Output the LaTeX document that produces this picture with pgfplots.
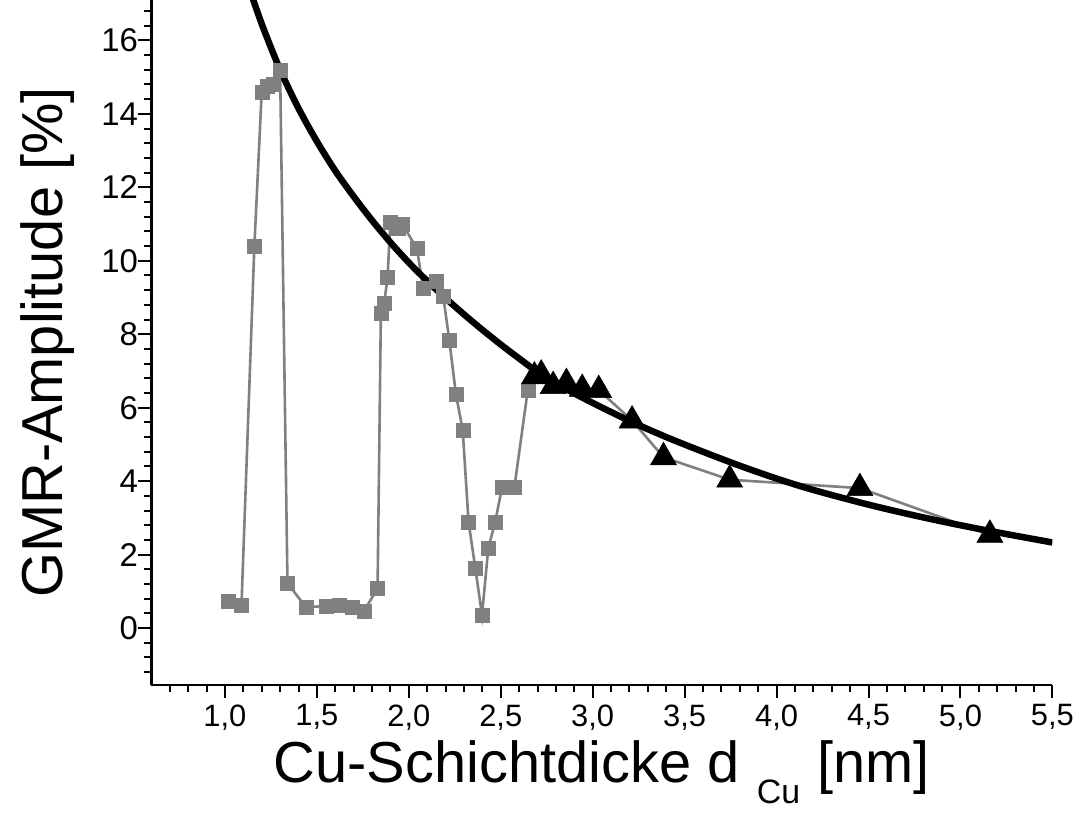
\documentclass[border=0pt]{standalone}
\usepackage{pgfplots}
\pgfplotsset{compat=1.18}
\usepackage{fontspec}
\setmainfont{Liberation Sans}
\definecolor{greyline}{RGB}{128,128,128}

\begin{document}
\begin{tikzpicture}
\begin{axis}[
  scale only axis, width=901bp, height=685bp,
  xmin=0.6, xmax=5.5, ymin=-1.55, ymax=17.1,
  axis x line=bottom, axis y line=left,
  axis line style={line width=2.6bp, -},
  xtick={1.0,1.5,2.0,2.5,3.0,3.5,4.0,4.5,5.0,5.5},
  xticklabels={{1,0},{1,5},{2,0},{2,5},{3,0},{3,5},{4,0},{4,5},{5,0},{5,5}},
  ytick={0,2,4,6,8,10,12,14,16},
  minor xtick={0.7,0.8,0.9,1.1,1.2,1.3,1.4,1.6,1.7,1.8,1.9,2.1,2.2,2.3,2.4,2.6,2.7,2.8,2.9,3.1,3.2,3.3,3.4,3.6,3.7,3.8,3.9,4.1,4.2,4.3,4.4,4.6,4.7,4.8,4.9,5.1,5.2,5.3,5.4},
  minor ytick={-1.2,-0.8,-0.4,0.4,0.8,1.2,1.6,2.4,2.8,3.2,3.6,4.4,4.8,5.2,5.6,6.4,6.8,7.2,7.6,8.4,8.8,9.2,9.6,10.4,10.8,11.2,11.6,12.4,12.8,13.2,13.6,14.4,14.8,15.2,15.6,16.4,16.8},
  tick align=outside,
  major tick length=13bp, minor tick length=7bp,
  every tick/.style={line width=2bp, black},
  /pgf/number format/assume math mode=true,
  xticklabel style={font=\fontsize{31}{31}\selectfont, yshift=-3bp},
  yticklabel style={font=\fontsize{33}{33}\selectfont, xshift=3bp},
  xlabel={Cu-Schichtdicke d\hspace{0.3em}\raisebox{-0.38em}{\fontsize{34}{34}\selectfont Cu}\hspace{0.3em}[nm]},
  ylabel={GMR-Amplitude [\%]},
  label style={font=\fontsize{58}{58}\selectfont},
  xlabel style={at={(axis description cs:0.5,-0.1416)}, anchor=base},
  ylabel style={at={(axis description cs:-0.0988,0.5)}, anchor=base, rotate=0},
]
\coordinate (O) at (rel axis cs:0,0);
% measured series (grey squares)
\addplot[color=greyline, line width=2.6bp, mark=square*, mark size=7bp, mark options={fill=greyline, draw=greyline, line width=0.4bp}] coordinates {
(1.016,0.73) (1.09,0.63) (1.16,10.4) (1.20,14.6) (1.23,14.75) (1.265,14.8) (1.30,15.2)
(1.34,1.22) (1.44,0.57) (1.55,0.6) (1.62,0.62) (1.69,0.57) (1.757,0.47) (1.83,1.08)
(1.848,8.58) (1.866,8.84) (1.884,9.54) (1.90,11.06) (1.94,10.88) (1.966,10.99) (2.044,10.33)
(2.078,9.26) (2.148,9.44) (2.187,9.04) (2.22,7.84) (2.256,6.37) (2.293,5.39) (2.325,2.88)
(2.362,1.62) (2.398,0.35) (2.432,2.17) (2.469,2.88) (2.507,3.83) (2.574,3.83) (2.647,6.48)
};
% grey connecting line through triangles
\addplot[color=greyline, line width=2.6bp, mark=none] coordinates {
(2.647,6.48) (2.683,6.85) (2.72,6.9) (2.785,6.59) (2.857,6.67) (2.943,6.51) (3.033,6.48)
(3.214,5.65) (3.385,4.65) (3.745,4.04) (4.453,3.81) (5.16,2.54)
};
% fit curve
\addplot[black, line width=6.5bp, smooth] coordinates {
(1.12,17.6) (1.2,16.45) (1.3,15.2) (1.4,14.15) (1.5,13.25) (1.6,12.45) (1.7,11.75)
(1.8,11.1) (1.9,10.5) (2.0,9.95) (2.1,9.45) (2.2,8.98) (2.3,8.54) (2.4,8.12) (2.5,7.72)
(2.6,7.34) (2.7,6.97) (2.8,6.66) (2.9,6.39) (3.0,6.13) (3.2,5.64) (3.4,5.2) (3.6,4.8)
(3.8,4.42) (4.0,4.07) (4.2,3.76) (4.5,3.36) (4.8,3.01) (5.1,2.7) (5.5,2.33)
};
% triangles
\addplot[only marks, mark=triangle*, mark size=15bp, mark options={fill=black, draw=black, line width=0.5bp}] coordinates {
(2.683,6.85) (2.72,6.9) (2.785,6.59) (2.857,6.67) (2.943,6.51) (3.033,6.48)
(3.214,5.65) (3.385,4.65) (3.745,4.04) (4.453,3.81) (5.16,2.54)
};
\end{axis}
\pgfresetboundingbox
\path[use as bounding box] ([shift={(-151.4bp,-129bp)}]O) rectangle ++(1079bp,814bp);
\end{tikzpicture}
\end{document}
